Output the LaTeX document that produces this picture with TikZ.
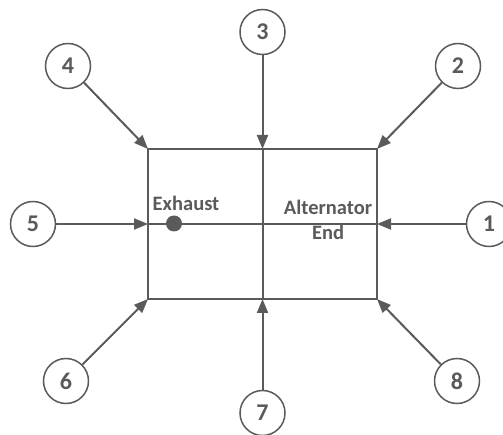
\documentclass[tikz,border=0pt]{standalone}
\usepackage{fontspec}
\setmainfont{Carlito}
\usetikzlibrary{arrows.meta}
\definecolor{ink}{HTML}{5A5A5A}
\begin{document}
\begin{tikzpicture}[x=1pt,y=-1pt,
  num/.style={circle, draw=ink, line width=1.5pt, minimum size=45pt, inner sep=0pt,
    font=\fontsize{24}{24}\selectfont\bfseries, text=ink},
  arr/.style={draw=ink, line width=2pt, -{Triangle[length=14pt,width=11pt]}},
  txt/.style={font=\fontsize{20.5}{20.5}\selectfont\bfseries, text=ink, inner sep=0pt, anchor=base},
  boxst/.style={draw=ink, line width=2.5pt, minimum width=229pt, minimum height=150pt, outer sep=0pt, inner sep=0pt},
  midline/.style={draw=ink, line width=2pt}]
\useasboundingbox (0,0) rectangle (503,435);
\node[boxst] (box) at (262.5,224) {};
\draw[midline] (box.north) -- (box.south);
\draw[midline] (box.west) -- (box.east);
\node[circle, fill=ink, minimum size=16pt, inner sep=0pt] (dot) at (174,223.5) {};
\node[txt] (exh) at (186,211) {Exhaust};
\node[txt] (alt) at (328,215) {Alternator};
\node[txt] (end) at (328,240) {End};
\node[num] (n1) at (489,224) {1};
\node[num] (n2) at (458,66) {2};
\node[num] (n3) at (262.5,32) {3};
\node[num] (n4) at (68,66) {4};
\node[num] (n5) at (33,224) {5};
\node[num] (n6) at (66,381) {6};
\node[num] (n7) at (262.5,413) {7};
\node[num] (n8) at (457,381) {8};
\draw[arr] (n1) -- (box.east);
\draw[arr] (n2) -- (box.north east);
\draw[arr] (n3) -- (box.north);
\draw[arr] (n4) -- (box.north west);
\draw[arr] (n5) -- (box.west);
\draw[arr] (n6) -- (box.south west);
\draw[arr] (n7) -- (box.south);
\draw[arr] (n8) -- (box.south east);
\end{tikzpicture}
\end{document}
